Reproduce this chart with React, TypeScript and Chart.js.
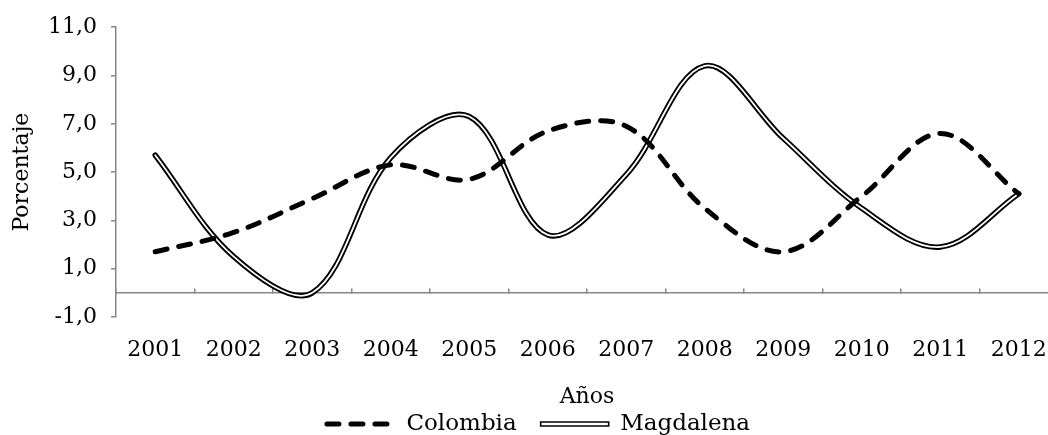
import React, { useEffect, useRef } from 'react';
import { Chart, registerables } from 'chart.js';

Chart.register(...registerables);

const years = ['2001', '2002', '2003', '2004', '2005', '2006', '2007', '2008', '2009', '2010', '2011', '2012'];
const colombia = [1.7, 2.5, 3.9, 5.3, 4.7, 6.7, 6.9, 3.5, 1.7, 4.0, 6.6, 4.1];
const magdalena = [5.7, 1.5, 0.0, 5.6, 7.3, 2.4, 4.9, 9.4, 6.4, 3.5, 1.9, 4.1];
const yMin = -1;
const yMax = 11;
const yStep = 2;

const FONT = 'DejaVu Serif';
const AXIS_GRAY = '#868686';

export default function App() {
  const ref = useRef<HTMLCanvasElement | null>(null);

  useEffect(() => {
    if (!ref.current) return;
    Chart.defaults.font.family = FONT;
    const tension = 0.35;
    const chart = new Chart(ref.current, {
      type: 'line',
      data: {
        labels: years,
        datasets: [
          {
            label: 'Colombia',
            data: colombia,
            borderColor: '#000',
            borderWidth: 5,
            borderDash: [12, 12],
            borderCapStyle: 'round',
            tension,
            pointRadius: 0,
            fill: false,
            order: 0,
          },
          {
            label: 'Magdalena',
            data: magdalena,
            borderColor: '#fff',
            borderWidth: 1.8,
            borderCapStyle: 'round',
            tension,
            pointRadius: 0,
            fill: false,
            order: 1,
          },
          {
            label: 'Magdalena',
            data: magdalena,
            borderColor: '#000',
            borderWidth: 5.5,
            borderCapStyle: 'round',
            tension,
            pointRadius: 0,
            fill: false,
            order: 2,
          },
        ],
      },
      options: {
        animation: false,
        responsive: true,
        maintainAspectRatio: false,
        layout: { padding: { left: 0, right: 0, top: 24, bottom: 0 } },
        scales: {
          x: {
            type: 'category',
            position: { y: 0 } as any,
            offset: true,
            grid: {
              offset: true,
              drawOnChartArea: false,
              drawTicks: true,
              tickLength: -5,
              color: AXIS_GRAY,
              lineWidth: 1.5,
            },
            border: { display: true, color: AXIS_GRAY, width: 1.5 },
            ticks: { display: false },
          },
          x2: {
            type: 'category',
            position: 'bottom',
            offset: true,
            grid: { display: false, drawTicks: false },
            border: { display: false },
            ticks: {
              color: '#000',
              font: { size: 22 },
              padding: 20,
              maxRotation: 0,
              autoSkip: false,
            },
            title: {
              display: true,
              text: 'Años',
              color: '#000',
              font: { size: 22 },
              padding: { top: 0, bottom: -22 },
            },
            afterFit: (s: any) => {
              s.height = 71.5;
            },
          },
          y: {
            min: yMin,
            max: yMax,
            ticks: {
              stepSize: yStep,
              color: '#000',
              font: { size: 22 },
              padding: 14,
              callback: (v: any) => Number(v).toFixed(1).replace('.', ','),
            },
            grid: {
              drawOnChartArea: false,
              drawTicks: true,
              tickLength: 5,
              color: AXIS_GRAY,
              lineWidth: 1.5,
            },
            border: { display: true, color: AXIS_GRAY, width: 1.5 },
            title: {
              display: true,
              text: 'Porcentaje',
              color: '#000',
              font: { size: 22 },
              padding: { top: 9, bottom: 0 },
            },
            afterFit: (s: any) => {
              s.width = 116;
            },
          },
          yR: {
            type: 'linear',
            position: 'right',
            display: true,
            grid: { display: false, drawTicks: false },
            border: { display: false },
            ticks: { display: false },
            afterFit: (s: any) => {
              s.width = 19;
            },
          },
        },
        plugins: {
          tooltip: { enabled: false },
          legend: {
            position: 'bottom',
            maxHeight: 46.5,
            labels: {
              usePointStyle: true,
              pointStyleWidth: 68,
              boxHeight: 4,
              color: '#000',
              font: { size: 23 },
              padding: 24,
              generateLabels: () => [
                {
                  text: 'Colombia',
                  pointStyle: 'line',
                  strokeStyle: '#000',
                  fillStyle: '#000',
                  lineWidth: 5,
                  lineDash: [12, 12],
                  lineCap: 'round',
                  datasetIndex: 0,
                  hidden: false,
                } as any,
                {
                  text: 'Magdalena',
                  pointStyle: 'rect',
                  strokeStyle: '#000',
                  fillStyle: '#fff',
                  lineWidth: 1.6,
                  datasetIndex: 1,
                  hidden: false,
                } as any,
              ],
            },
          },
        },
      },
    });
    return () => chart.destroy();
  }, []);

  return (
    <div style={{ position: 'fixed', left: 0, top: 0, width: 1048, height: 435, overflow: 'hidden', background: '#fff' }}>
      <div style={{ position: 'relative', width: 1077, height: 435 }}>
        <canvas ref={ref} />
      </div>
    </div>
  );
}
